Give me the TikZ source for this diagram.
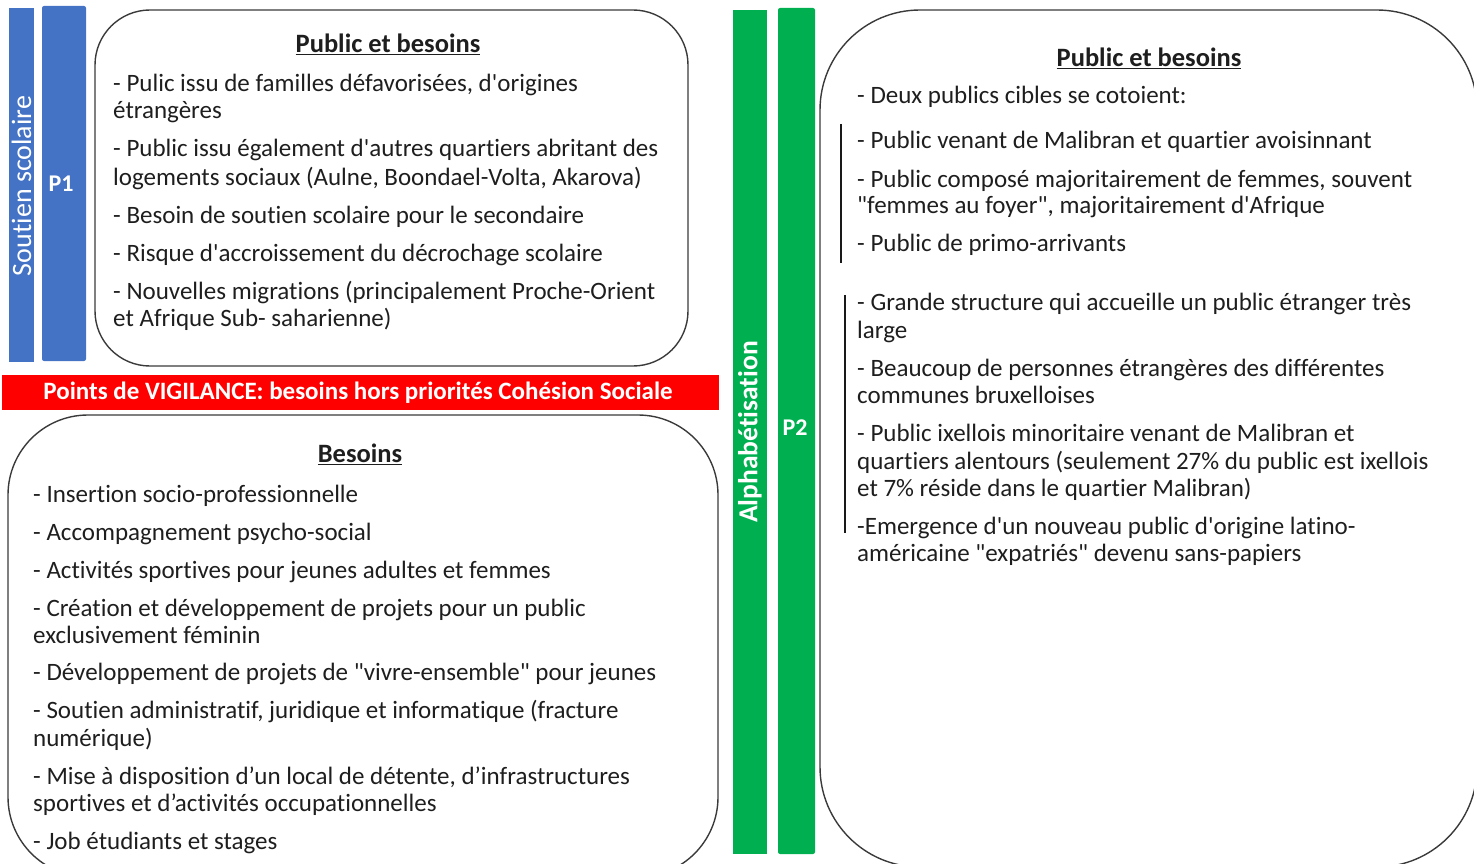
\documentclass[tikz,border=0pt]{standalone}
\usepackage{fontspec}
\newfontfamily\calib{Carlito}[Ligatures={NoCommon}]
\definecolor{cblue}{HTML}{4472C4}
\definecolor{cgreen}{HTML}{00B050}
\definecolor{cred}{HTML}{FF0000}
\definecolor{ctext}{HTML}{1E1E1E}
\definecolor{cline}{HTML}{3A3A3A}
\newcommand\tline[4]{\node[txt] (#1) at (#2,#3+8) {#4};}
\begin{document}
\begin{tikzpicture}[x=1pt,y=-1pt,
  txt/.style={anchor=base west,inner sep=0pt,text=ctext,font=\calib\fontsize{25}{27}\selectfont},
  ttl/.style={inner sep=0pt,text=ctext,font=\calib\fontsize{26.5}{28}\selectfont\bfseries},
  barlbl/.style={text=white,inner sep=0pt},
  rbox/.style={draw=cline,line width=1.4pt},
  vline/.style={line width=2.6pt,draw=black!90}]
\useasboundingbox (0,0) rectangle (1474,864);
\clip (0,0) rectangle (1474,864);
% blue bars
\fill[cblue] (9,8) rectangle (34,362);
\fill[cblue,rounded corners=2pt] (42,6) rectangle (86,361);
\node[barlbl,rotate=90,font=\calib\fontsize{28}{30}\selectfont] (ss) at (21.5,186) {Soutien scolaire};
\node[barlbl,font=\calib\fontsize{24}{26}\selectfont\bfseries] (p1) at (61,184) {P1};
% green bars
\fill[cgreen] (733,10) rectangle (767,854);
\fill[cgreen,rounded corners=2pt] (778,8) rectangle (815,854);
\node[barlbl,rotate=90,font=\calib\fontsize{27.5}{30}\selectfont\bfseries] (alph) at (750,432) {Alphabétisation};
\node[barlbl,font=\calib\fontsize{24}{26}\selectfont\bfseries] (p2) at (795,428) {P2};
% red banner
\fill[cred] (2,375) rectangle (719,410);
\node[barlbl,font=\calib\fontsize{25}{27}\selectfont\bfseries] (vig) at (358,393) {Points de VIGILANCE: besoins hors priorités Cohésion Sociale};
% boxes
\draw[rbox,rounded corners=55pt] (95,10) rectangle (688,366);
\draw[rbox,rounded corners=80pt] (8,415) rectangle (718,877);
\draw[rbox,rounded corners=100pt] (820,10) rectangle (1477,867);
% vertical lines right
\draw[vline] (841,124) -- (841,263);
\draw[vline] (845,295) -- (845,533);
% top-left box text
\node[ttl] (t1) at (388,44) {\underline{Public et besoins}};
\tline{a1}{113}{84}{- Pulic issu de familles défavorisées, d'origines}
\tline{a2}{113}{110}{étrangères}
\tline{a3}{113}{148}{- Public issu également d'autres quartiers abritant des}
\tline{a4}{113}{177}{logements sociaux (Aulne, Boondael-Volta, Akarova)}
\tline{a5}{113}{215}{- Besoin de soutien scolaire pour le secondaire}
\tline{a6}{113}{253}{- Risque d'accroissement du décrochage scolaire}
\tline{a7}{113}{291}{- Nouvelles migrations (principalement Proche-Orient}
\tline{a8}{113}{318}{et Afrique Sub- saharienne)}
% bottom-left box text
\node[ttl] (t2) at (360,454) {\underline{Besoins}};
\tline{b1}{33}{494}{- Insertion socio-professionnelle}
\tline{b2}{33}{532}{- Accompagnement psycho-social}
\tline{b3}{33}{570}{- Activités sportives pour jeunes adultes et femmes}
\tline{b4}{33}{608}{- Création et développement de projets pour un public}
\tline{b5}{33}{635}{exclusivement féminin}
\tline{b6}{33}{672}{- Développement de projets de "vivre-ensemble" pour jeunes}
\tline{b7}{33}{710}{- Soutien administratif, juridique et informatique (fracture}
\tline{b8}{33}{738}{numérique)}
\tline{b9}{33}{776}{- Mise à disposition d’un local de détente, d’infrastructures}
\tline{b10}{33}{803}{sportives et d’activités occupationnelles}
\tline{b11}{33}{841}{- Job étudiants et stages}
% right box text
\node[ttl] (t3) at (1149,58) {\underline{Public et besoins}};
\tline{c1}{857}{95}{- Deux publics cibles se cotoient:}
\tline{c2}{857}{141}{- Public venant de Malibran et quartier avoisinnant}
\tline{c3}{857}{179}{- Public composé majoritairement de femmes, souvent}
\tline{c4}{857}{205}{"femmes au foyer", majoritairement d'Afrique}
\tline{c5}{857}{243}{- Public de primo-arrivants}
\tline{c6}{857}{302}{- Grande structure qui accueille un public étranger très}
\tline{c7}{857}{330}{large}
\tline{c8}{857}{368}{- Beaucoup de personnes étrangères des différentes}
\tline{c9}{857}{395}{communes bruxelloises}
\tline{c10}{857}{433}{- Public ixellois minoritaire venant de Malibran et}
\tline{c11}{857}{461}{quartiers alentours (seulement 27\% du public est ixellois}
\tline{c12}{857}{488}{et 7\% réside dans le quartier Malibran)}
\tline{c13}{857}{526}{-Emergence d'un nouveau public d'origine latino-}
\tline{c14}{857}{553}{américaine "expatriés" devenu sans-papiers}
\end{tikzpicture}
\end{document}
